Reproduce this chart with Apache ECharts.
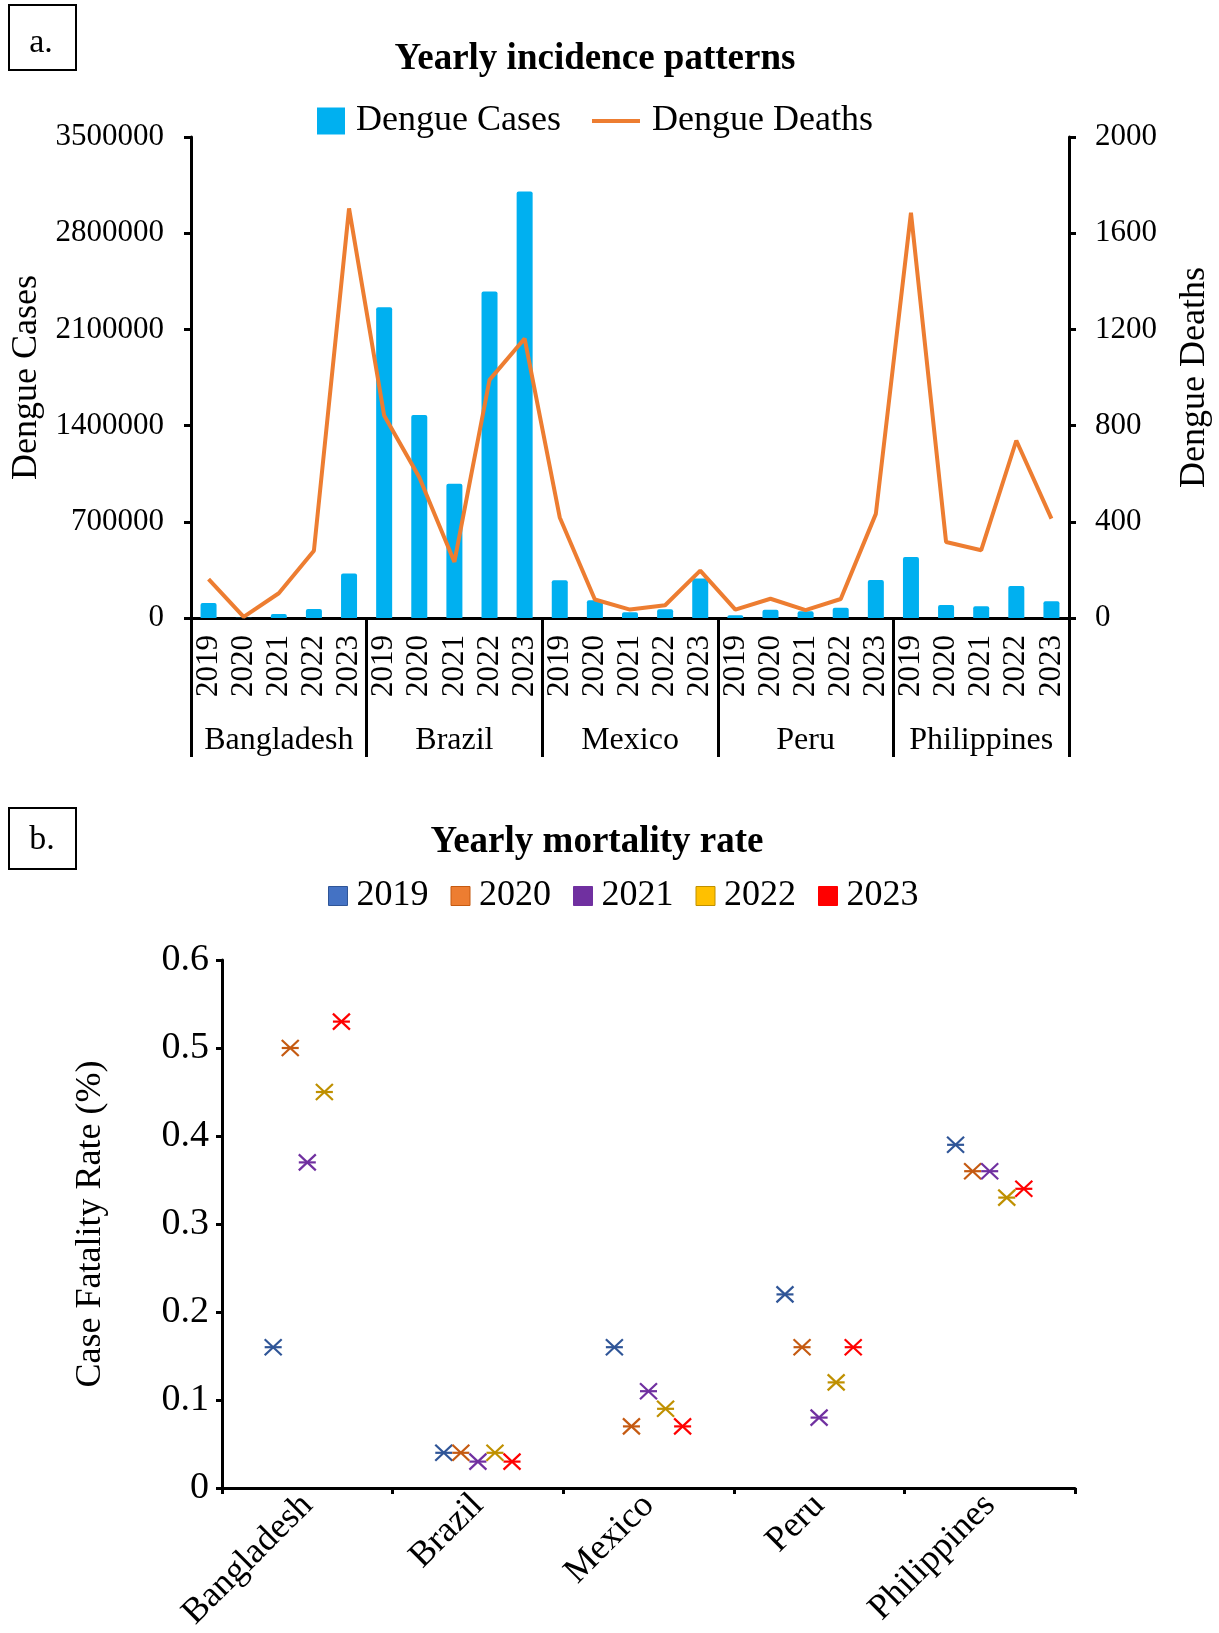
<!DOCTYPE html>
<html>
<head>
<meta charset="utf-8">
<script src="https://cdn.jsdelivr.net/npm/echarts/dist/echarts.min.js"></script>
<style>
html,body{margin:0;padding:0;background:#fff;}
#chart{width:1219px;height:1633px;}
</style>
</head>
<body>
<div id="chart"></div>
<script>
// ---------- data ----------
const countries = ['Bangladesh', 'Brazil', 'Mexico', 'Peru', 'Philippines'];
const years = ['2019', '2020', '2021', '2022', '2023'];

// Dengue cases per country, 2019..2023
const casesBangladesh  = [110000, 1400, 30000, 65000, 323000];
const casesBrazil      = [2262000, 1478000, 977000, 2375000, 3104000];
const casesMexico      = [275000, 129000, 42000, 64000, 287000];
const casesPeru        = [20000, 60000, 50000, 75000, 277000];
const casesPhilippines = [444000, 95000, 85000, 233000, 121000];

// Dengue deaths per country, 2019..2023
const deathsBangladesh  = [162, 5, 103, 280, 1703];
const deathsBrazil      = [842, 585, 233, 990, 1162];
const deathsMexico      = [418, 77, 35, 53, 197];
const deathsPeru        = [35, 80, 33, 79, 433];
const deathsPhilippines = [1685, 316, 282, 738, 413];

// Case fatality rate (%) per year, by country
const cfr2019 = [0.16, 0.04, 0.16, 0.22, 0.39];
const cfr2020 = [0.50, 0.04, 0.07, 0.16, 0.36];
const cfr2021 = [0.37, 0.03, 0.11, 0.08, 0.36];
const cfr2022 = [0.45, 0.04, 0.09, 0.12, 0.33];
const cfr2023 = [0.53, 0.03, 0.07, 0.16, 0.34];

// axis ranges
const casesAxis  = {min: 0, max: 3500000, interval: 700000};
const deathsAxis = {min: 0, max: 2000, interval: 400};
const cfrAxis    = {min: 0, max: 0.6, interval: 0.1};

// ---------- build ----------
const FONT = '"Liberation Serif", "Times New Roman", serif';
const casesAll  = [casesBangladesh, casesBrazil, casesMexico, casesPeru, casesPhilippines];
const deathsAll = [deathsBangladesh, deathsBrazil, deathsMexico, deathsPeru, deathsPhilippines];
const cfrAll = [cfr2019, cfr2020, cfr2021, cfr2022, cfr2023];

const yearCats = [];
countries.forEach(() => years.forEach(y => yearCats.push(y)));
const casesFlat = [].concat(...casesAll);
const deathsFlat = [].concat(...deathsAll);

const markerColors = ['#2F5597', '#C55A11', '#7030A0', '#BF9000', '#FF0000'];
const legendFill   = ['#4472C4', '#ED7D31', '#7030A0', '#FFC000', '#FF0000'];

const black = '#000';
const plain = v => String(v);

function starRenderer(i) {
  return function (params, api) {
    const p = api.coord([api.value(0), api.value(1)]);
    const band = api.size([1, 0])[0];
    const x = p[0] + (i - 2) * band * 0.1;
    const y = p[1];
    const hw = 8.5, hh = 8;
    const st = {stroke: markerColors[i], lineWidth: 2.2, fill: null};
    return {
      type: 'group',
      children: [
        {type: 'line', shape: {x1: x - hw, y1: y - hh, x2: x + hw, y2: y + hh}, style: st},
        {type: 'line', shape: {x1: x - hw, y1: y + hh, x2: x + hw, y2: y - hh}, style: st},
        {type: 'line', shape: {x1: x - hw, y1: y, x2: x + hw, y2: y}, style: st}
      ]
    };
  };
}

const chart = echarts.init(document.getElementById('chart'), null, {renderer: 'canvas'});

const txt = (x, y, text, font) => ({type: 'text', x: x, y: y,
  style: {text: text, font: font, fill: black, align: 'center', verticalAlign: 'middle', textAlign: 'center', textVerticalAlign: 'middle'}});

const option = {
  animation: false,
  backgroundColor: '#fff',
  textStyle: {fontFamily: FONT, color: black},
  graphic: [
    {type: 'rect', shape: {x: 9, y: 5, width: 67, height: 65}, style: {fill: 'none', stroke: black, lineWidth: 2}},
    txt(41, 43, 'a.', '34px ' + FONT),
    txt(595, 59, 'Yearly incidence patterns', 'bold 37px ' + FONT),
    {type: 'rect', shape: {x: 9, y: 808, width: 67, height: 61}, style: {fill: 'none', stroke: black, lineWidth: 2}},
    txt(42, 840, 'b.', '34px ' + FONT),
    txt(597, 842, 'Yearly mortality rate', 'bold 37px ' + FONT)
  ],
  legend: [
    {data: [{name: 'Dengue Cases', icon: 'rect', itemStyle: {color: '#00B0F0'}}], left: 312, top: 98, itemWidth: 28, itemHeight: 27,
     textStyle: {fontFamily: FONT, fontSize: 36, color: black, padding: [0, 0, 0, 6]}, selectedMode: false},
    {data: [{name: 'Dengue Deaths', icon: 'path://M0,0L48,0L48,4L0,4Z', itemStyle: {color: '#ED7D31', borderWidth: 0}}],
     left: 587, top: 98, itemWidth: 48, itemHeight: 27, symbolKeepAspect: true,
     textStyle: {fontFamily: FONT, fontSize: 36, color: black, padding: [0, 0, 0, 7]}, selectedMode: false},
    {data: years.map((y, i) => ({name: y, icon: 'rect', itemStyle: {color: legendFill[i], borderColor: markerColors[i], borderWidth: 1}})),
     left: 323, top: 873, itemWidth: 19, itemHeight: 19, itemGap: 22,
     textStyle: {fontFamily: FONT, fontSize: 36, color: black, padding: [0, 0, 0, 4]}, selectedMode: false}
  ],
  grid: [
    {left: 191, right: 150, top: 137, height: 481, containLabel: false, outerBoundsMode: 'none'},
    {left: 222, right: 144, top: 960, height: 528, containLabel: false, outerBoundsMode: 'none'}
  ],
  xAxis: [
    {type: 'category', gridIndex: 0, position: 'bottom', data: yearCats, boundaryGap: true,
     axisLine: {show: true, onZero: false, lineStyle: {color: black, width: 3}},
     axisTick: {show: false},
     axisLabel: {interval: 0, rotate: 90, fontSize: 31, color: black, margin: 17, fontFamily: FONT},
     splitLine: {show: false}},
    {type: 'category', gridIndex: 0, position: 'bottom', data: countries, boundaryGap: true,
     axisLine: {show: false, onZero: false},
     axisTick: {show: true, interval: 0, length: 139, lineStyle: {color: black, width: 3}},
     axisLabel: {interval: 0, fontSize: 32, color: black, margin: 107, verticalAlign: 'top', fontFamily: FONT},
     splitLine: {show: false}},
    {type: 'category', gridIndex: 1, position: 'bottom', data: countries, boundaryGap: true,
     axisLine: {show: true, onZero: false, lineStyle: {color: black, width: 3}},
     axisTick: {show: true, interval: 0, length: 6, lineStyle: {color: black, width: 3}},
     axisLabel: {interval: 0, rotate: 45, fontSize: 36, color: black, margin: 12, fontFamily: FONT},
     splitLine: {show: false}}
  ],
  yAxis: [
    {type: 'value', gridIndex: 0, position: 'left', min: casesAxis.min, max: casesAxis.max, interval: casesAxis.interval,
     name: 'Dengue Cases', nameLocation: 'middle', nameRotate: 90, nameGap: 137,
     nameTextStyle: {fontSize: 36, color: black, fontFamily: FONT},
     axisLine: {show: true, lineStyle: {color: black, width: 3}},
     axisTick: {show: true, length: 7, lineStyle: {color: black, width: 3}},
     axisLabel: {fontSize: 31, color: black, margin: 27, fontFamily: FONT, formatter: plain},
     splitLine: {show: false}},
    {type: 'value', gridIndex: 0, position: 'right', min: deathsAxis.min, max: deathsAxis.max, interval: deathsAxis.interval,
     name: 'Dengue Deaths', nameLocation: 'middle', nameRotate: 90, nameGap: 108,
     nameTextStyle: {fontSize: 36, color: black, fontFamily: FONT},
     axisLine: {show: true, lineStyle: {color: black, width: 3}},
     axisTick: {show: true, length: 7, lineStyle: {color: black, width: 3}},
     axisLabel: {fontSize: 31, color: black, margin: 26, fontFamily: FONT, formatter: plain},
     splitLine: {show: false}},
    {type: 'value', gridIndex: 1, position: 'left', min: cfrAxis.min, max: cfrAxis.max, interval: cfrAxis.interval,
     name: 'Case Fatality Rate (%)', nameLocation: 'middle', nameRotate: 90, nameGap: 113,
     nameTextStyle: {fontSize: 36, color: black, fontFamily: FONT},
     axisLine: {show: true, lineStyle: {color: black, width: 3}},
     axisTick: {show: true, length: 6, lineStyle: {color: black, width: 3}},
     axisLabel: {fontSize: 38, color: black, margin: 13, fontFamily: FONT},
     splitLine: {show: false}}
  ],
  series: [
    {type: 'bar', name: 'Dengue Cases', xAxisIndex: 0, yAxisIndex: 0, data: casesFlat,
     barWidth: 16, itemStyle: {color: '#00B0F0', borderRadius: [2, 2, 0, 0]}},
    {type: 'line', name: 'Dengue Deaths', xAxisIndex: 0, yAxisIndex: 1, data: deathsFlat,
     symbol: 'none', showSymbol: false, smooth: false,
     lineStyle: {color: '#ED7D31', width: 4}, itemStyle: {color: '#ED7D31'}, z: 5}
  ].concat(years.map((y, i) => ({
    type: 'custom', name: y, xAxisIndex: 2, yAxisIndex: 2,
    data: cfrAll[i].map((v, k) => [countries[k], v]),
    encode: {x: 0, y: 1},
    renderItem: starRenderer(i),
    itemStyle: {color: legendFill[i]},
    clip: false,
    z: 4
  })))
};
chart.setOption(option);
</script>
</body>
</html>
